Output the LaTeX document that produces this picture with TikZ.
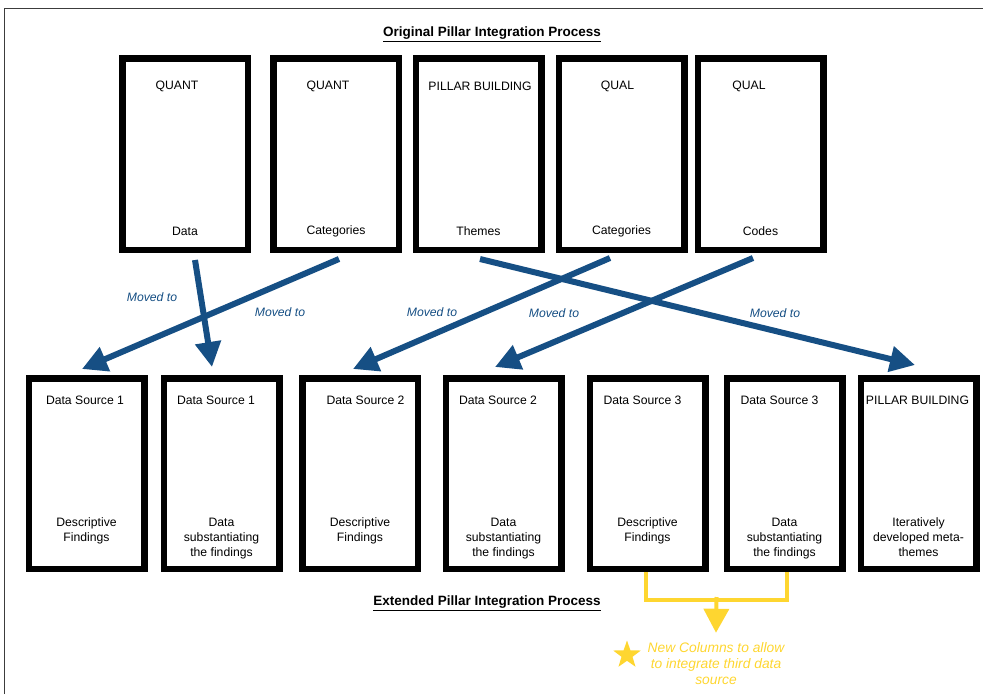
\documentclass[tikz,border=0pt]{standalone}
\usepackage{fontspec}
\setmainfont{Liberation Sans}
\usepackage{tikz}
\usetikzlibrary{arrows.meta,positioning,shapes.geometric}
\definecolor{moveblue}{RGB}{22,79,132}
\definecolor{newyellow}{RGB}{254,214,48}
\definecolor{framegray}{RGB}{60,60,60}

\begin{document}
\begin{tikzpicture}[x=1pt, y=-1pt,
    every node/.style={font=\fontsize{12.2}{15}\selectfont, inner sep=0pt},
    topbox/.style={draw, line width=6.5pt, minimum width=125.5pt, minimum height=191.5pt},
    botbox/.style={draw, line width=6.5pt, minimum width=115.5pt, minimum height=190.5pt},
    boxtext/.style={align=center},
    movearrow/.style={moveblue, line width=6pt, -{Triangle[length=25pt,width=25pt]}},
    movelbl/.style={moveblue, font=\fontsize{12.2}{15}\selectfont\itshape},
    bracket/.style={newyellow, line width=4pt},
    notearrow/.style={newyellow, line width=4pt, -{Triangle[length=24pt,width=25pt]}},
    title/.style={font=\fontsize{13.5}{16}\selectfont\bfseries}]
    \useasboundingbox (0,0) rectangle (983,694);
    \draw[framegray, line width=1pt] (4,694) -- (4,8) -- (983,8);

    % ── Original process: top row ───────────────────────────────────────────
    \node[title] (origtitle) at (492,34) {\underline{Original Pillar Integration Process}};
    \foreach \k/\x/\hx/\hd/\ft in {1/185/177/QUANT/Data, 2/336/328/QUANT/Categories,
        3/478.5/480/PILLAR BUILDING/Themes, 4/621.5/617.5/QUAL/Categories, 5/760.5/749/QUAL/Codes} {
      \node[topbox] (top\k) at (\x,154) {};
      \node (tophd\k) at (\hx,86) {\hd};
      \node (topft\k) at (\x,231) {\ft};
    }

    % ── Extended process: bottom row ────────────────────────────────────────
    \foreach \k/\x/\hx/\hd/\ft in {1/86.5/85/Data Source 1/{Descriptive\\Findings},
        2/221.5/216/Data Source 1/{Data\\substantiating\\the findings},
        3/360/365.5/Data Source 2/{Descriptive\\Findings},
        4/503.5/498/Data Source 2/{Data\\substantiating\\the findings},
        5/647.5/642.5/Data Source 3/{Descriptive\\Findings},
        6/784.5/779.5/Data Source 3/{Data\\substantiating\\the findings},
        7/918.5/917.5/PILLAR BUILDING/{Iteratively\\developed meta-\\themes}} {
      \node[botbox] (bot\k) at (\x,473.5) {};
      \node (bothd\k) at (\hx,400) {\hd};
      \node[boxtext, anchor=north] (botft\k) at (\x,517.5) {\ft};
    }
    \node[title] (exttitle) at (487,603) {\underline{Extended Pillar Integration Process}};

    % Moved-to arrows
    \draw[movearrow] ([shift={(10pt,-7pt)}]top1.south) -- ([shift={(-9.5pt,8pt)}]bot2.north);
    \draw[movearrow] ([shift={(3pt,-6pt)}]top2.south) -- ([shift={(-4.5pt,6pt)}]bot1.north);
    \draw[movearrow] ([shift={(-11.5pt,-5pt)}]top4.south) -- ([shift={(-7pt,6pt)}]bot3.north);
    \draw[movearrow] ([shift={(-7.5pt,-5pt)}]top5.south) -- ([shift={(-8.5pt,8pt)}]bot4.north);
    \draw[movearrow] ([shift={(1.5pt,-6pt)}]top3.south) -- ([shift={(-3.5pt,10pt)}]bot7.north);
    \node[movelbl] (mv1) at (152,297) {Moved to};
    \node[movelbl] (mv2) at (280,312) {Moved to};
    \node[movelbl] (mv3) at (432,312) {Moved to};
    \node[movelbl] (mv4) at (554,313) {Moved to};
    \node[movelbl] (mv5) at (775,313) {Moved to};

    % New columns note
    \draw[bracket] ([xshift=-1.5pt]bot5.south) -- ++(0,28) -| ([xshift=2.5pt]bot6.south);
    \coordinate (brkmid) at (716.5,597);
    \node[newyellow, align=center, font=\fontsize{13.8}{16}\selectfont\itshape] (note) at (716,664)
      {New Columns to allow\\to integrate third data\\source};
    \node[star, star points=5, star point ratio=2.5, fill=newyellow, minimum size=29pt] (newstar) at (627,655) {};
    \draw[notearrow] (brkmid) -- ([yshift=10pt]note.north);
\end{tikzpicture}
\end{document}
